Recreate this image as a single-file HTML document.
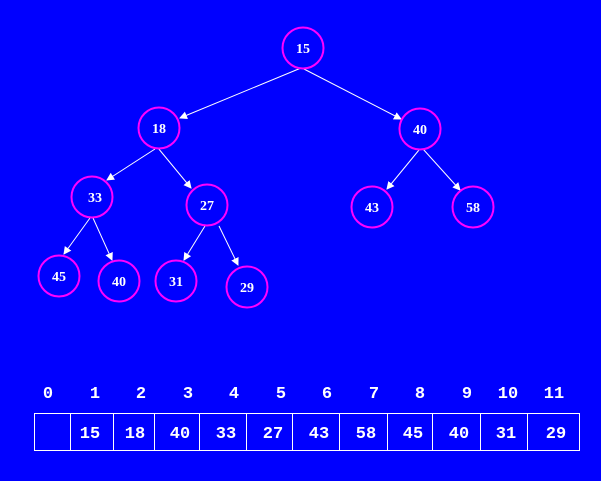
<!DOCTYPE html><html><head><style>body{margin:0;background:#0000ff;}svg{display:block}</style></head><body>
<svg width="601" height="481" viewBox="0 0 601 481" xmlns="http://www.w3.org/2000/svg">
<rect width="601" height="481" fill="#0000ff"/>
<defs><marker id="a" markerWidth="8" markerHeight="8" refX="7" refY="4" orient="auto" markerUnits="userSpaceOnUse"><path d="M0,0 L8,4 L0,8 z" fill="#fff"/></marker></defs>
<g stroke="#fff" stroke-width="1" marker-end="url(#a)">
<line x1="301" y1="68" x2="180" y2="118"/>
<line x1="302" y1="68" x2="401" y2="119"/>
<line x1="155" y1="149" x2="107" y2="180"/>
<line x1="158" y1="148" x2="191" y2="188"/>
<line x1="90" y1="218" x2="64" y2="254"/>
<line x1="93" y1="218" x2="112" y2="260"/>
<line x1="205" y1="226" x2="184" y2="260"/>
<line x1="219" y1="226" x2="238" y2="265"/>
<line x1="419" y1="150" x2="387" y2="189"/>
<line x1="423" y1="149" x2="460" y2="190"/>
</g>
<g fill="none" stroke="#ff00ff" stroke-width="2">
<circle cx="303" cy="48" r="20.5"/><circle cx="159" cy="128" r="20.5"/><circle cx="420" cy="129" r="20.5"/>
<circle cx="92" cy="197" r="20.5"/><circle cx="207" cy="205" r="20.5"/><circle cx="372" cy="207" r="20.5"/><circle cx="473" cy="207" r="20.5"/>
<circle cx="59" cy="276" r="20.5"/><circle cx="119" cy="281" r="20.5"/><circle cx="176" cy="281" r="20.5"/><circle cx="247" cy="287" r="20.5"/>
</g>
<g fill="#fff" font-family="Liberation Serif, serif" font-weight="bold" font-size="14" text-anchor="middle">
<text x="303" y="53">15</text><text x="159" y="133">18</text><text x="420" y="134">40</text>
<text x="95" y="202">33</text><text x="207" y="210">27</text><text x="372" y="212">43</text><text x="473" y="212">58</text>
<text x="59" y="281">45</text><text x="119" y="286">40</text><text x="176" y="286">31</text><text x="247" y="292">29</text>
</g>
<g fill="#fff" font-family="Liberation Mono, monospace" font-weight="bold" font-size="17" text-anchor="middle">
<text x="48" y="398">0</text><text x="95" y="398">1</text><text x="141" y="398">2</text><text x="188" y="398">3</text><text x="234" y="398">4</text><text x="281" y="398">5</text><text x="327" y="398">6</text><text x="374" y="398">7</text><text x="420" y="398">8</text><text x="467" y="398">9</text><text x="508" y="398">10</text><text x="554" y="398">11</text>
<text x="90" y="438">15</text><text x="135" y="438">18</text><text x="180" y="438">40</text><text x="226" y="438">33</text><text x="273" y="438">27</text><text x="319" y="438">43</text><text x="366" y="438">58</text><text x="413" y="438">45</text><text x="459" y="438">40</text><text x="506" y="438">31</text><text x="556" y="438">29</text>
</g>
<g stroke="#fff" stroke-width="1" fill="none">
<rect x="34.5" y="413.5" width="545" height="37"/>
<line x1="70.5" y1="413" x2="70.5" y2="451"/><line x1="113.5" y1="413" x2="113.5" y2="451"/><line x1="154.5" y1="413" x2="154.5" y2="451"/><line x1="199.5" y1="413" x2="199.5" y2="451"/><line x1="246.5" y1="413" x2="246.5" y2="451"/><line x1="292.5" y1="413" x2="292.5" y2="451"/><line x1="339.5" y1="413" x2="339.5" y2="451"/><line x1="387.5" y1="413" x2="387.5" y2="451"/><line x1="432.5" y1="413" x2="432.5" y2="451"/><line x1="480.5" y1="413" x2="480.5" y2="451"/><line x1="527.5" y1="413" x2="527.5" y2="451"/>
</g>
</svg>
</body></html>
